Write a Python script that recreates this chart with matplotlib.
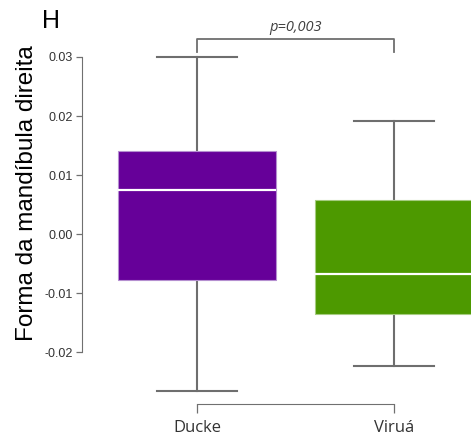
import matplotlib
matplotlib.use("Agg")
import matplotlib.pyplot as plt

# dados
grupos = ["Ducke", "Viruá"]
whis_lo = [-0.0266, -0.0224]
q1 = [-0.0078, -0.0136]
mediana = [0.0075, -0.0068]
q3 = [0.0141, 0.0058]
whis_hi = [0.0300, 0.0192]
cores = ["#660099", "#4d9900"]
bordas = ["#b58fd0", "#a6cc80"]
yticks = [-0.02, -0.01, 0.00, 0.01, 0.02, 0.03]
ytick_labels = ["-0.02", "-0.01", "0.00", "0.01", "0.02", "0.03"]
p_texto = "p=0,003"

fig = plt.figure(figsize=(4.71, 4.41), dpi=100)
ax = fig.add_axes([82 / 471, 0, 1 - 82 / 471, 1])

stats = []
for i in range(len(grupos)):
    stats.append({"med": mediana[i], "q1": q1[i], "q3": q3[i],
                  "whislo": whis_lo[i], "whishi": whis_hi[i], "fliers": []})

bp = ax.bxp(stats, positions=[0, 1], widths=0.80, patch_artist=True,
            showfliers=False,
            medianprops=dict(color="white", linewidth=1.6),
            whiskerprops=dict(color="#6e6e6e", linewidth=1.5),
            capprops=dict(color="#6e6e6e", linewidth=1.5),
            capwidths=0.41)
for caixa, c, b in zip(bp["boxes"], cores, bordas):
    caixa.set_facecolor(c)
    caixa.set_edgecolor(b)
    caixa.set_linewidth(0.8)
    caixa.set_zorder(3)
for m in bp["medians"]:
    m.set_zorder(4)

ax.set_xlim(-0.584, 1.391)
ax.set_ylim(-0.03508, 0.03966)

for s in ["top", "right"]:
    ax.spines[s].set_visible(False)
ax.spines["left"].set_bounds(-0.02, 0.03)
ax.spines["left"].set_color("#707070")
ax.spines["bottom"].set_position(("data", -0.0288))
ax.spines["bottom"].set_bounds(0, 1)
ax.spines["bottom"].set_color("#707070")

ax.set_yticks(yticks)
ax.set_yticklabels(ytick_labels, fontsize=9, family="Liberation Sans", color="#333333")
ax.set_xticks([0, 1])
ax.set_xticklabels(grupos, fontsize=12, family="Open Sans", color="#333333")
ax.tick_params(axis="y", length=4.5, width=0.9, color="#707070", pad=2)
ax.tick_params(axis="x", length=6.5, width=0.9, color="#707070", pad=5)

# barra de significância
ax.plot([0, 0, 1, 1], [0.03085, 0.03305, 0.03305, 0.03085],
        color="#6e6e6e", linewidth=1.3, clip_on=False)
ax.text(0.5, 0.0337, p_texto, ha="center", va="bottom", fontsize=10.5,
        style="italic", family="Open Sans", color="#404040")

fig.text(27 / 471, 1 - 193 / 441, "Forma da mandíbula direita", rotation=90,
         ha="center", va="center", fontsize=17.5, family="Liberation Sans")
fig.text(42 / 471, 1 - 21 / 441, "H", ha="left", va="center",
         fontsize=18, family="Liberation Sans")

fig.savefig("out.png", dpi=100)
